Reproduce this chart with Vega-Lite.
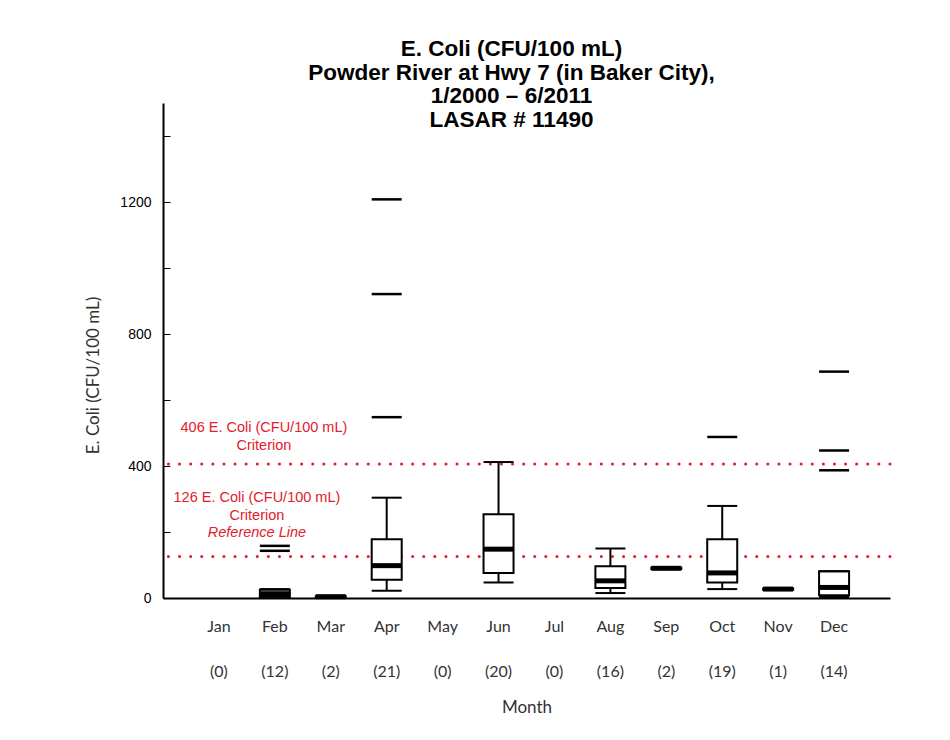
{
  "$schema": "https://vega.github.io/schema/vega-lite/v6.json",
  "autosize": "none",
  "width": 727,
  "height": 495,
  "padding": {"left": 163, "top": 103, "right": 60, "bottom": 142},
  "background": "white",
  "config": {"view": {"stroke": null}},
  "title": {
    "text": ["E. Coli (CFU/100 mL)", "Powder River at Hwy 7 (in Baker City),", "1/2000 – 6/2011", "LASAR # 11490"],
    "font": "Liberation Sans",
    "fontSize": 22.5,
    "fontWeight": "bold",
    "lineHeight": 23.5,
    "color": "black",
    "anchor": "middle",
    "frame": "group",
    "offset": -28,
    "dx": -15
  },
  "datasets": {
    "stats": [
      {"month": "Feb|(12)", "low": 0, "q1": 3, "median": 13, "q3": 25, "high": 27},
      {"month": "Mar|(2)", "low": 3, "q1": 3, "median": 4, "q3": 5, "high": 5},
      {"month": "Apr|(21)", "low": 22, "q1": 55, "median": 98, "q3": 178, "high": 304},
      {"month": "Jun|(20)", "low": 47, "q1": 76, "median": 148, "q3": 254, "high": 412},
      {"month": "Aug|(16)", "low": 15, "q1": 30, "median": 52, "q3": 96, "high": 150},
      {"month": "Sep|(2)", "low": 88, "q1": 88, "median": 90, "q3": 92, "high": 92},
      {"month": "Oct|(19)", "low": 27, "q1": 47, "median": 76, "q3": 178, "high": 279},
      {"month": "Nov|(1)", "low": 25, "q1": 25, "median": 27, "q3": 29, "high": 29},
      {"month": "Dec|(14)", "low": 3, "q1": 8, "median": 32, "q3": 81, "high": 81}
    ],
    "outliers": [
      {"month": "Feb|(12)", "value": 143},
      {"month": "Feb|(12)", "value": 158},
      {"month": "Apr|(21)", "value": 548},
      {"month": "Apr|(21)", "value": 921},
      {"month": "Apr|(21)", "value": 1208},
      {"month": "Oct|(19)", "value": 488},
      {"month": "Dec|(14)", "value": 387},
      {"month": "Dec|(14)", "value": 447},
      {"month": "Dec|(14)", "value": 686}
    ],
    "refs": [{"value": 406}, {"value": 126}],
    "notesUpper": [
      {"text": "406 E. Coli (CFU/100 mL)", "value": 515},
      {"text": "Criterion", "value": 462}
    ],
    "notesLower": [
      {"text": "126 E. Coli (CFU/100 mL)", "value": 303},
      {"text": "Criterion", "value": 248}
    ],
    "notesItalic": [
      {"text": "Reference Line", "value": 197}
    ]
  },
  "encoding": {
    "x": {
      "field": "month",
      "type": "nominal",
      "scale": {
        "domain": ["Jan|(0)", "Feb|(12)", "Mar|(2)", "Apr|(21)", "May|(0)", "Jun|(20)", "Jul|(0)", "Aug|(16)", "Sep|(2)", "Oct|(19)", "Nov|(1)", "Dec|(14)"],
        "paddingInner": 0,
        "paddingOuter": 0.5
      },
      "axis": {
        "title": "Month",
        "labelExpr": "split(datum.value, '|')",
        "labelAngle": 0,
        "labelFont": "Lato",
        "labelFontSize": 16,
        "labelColor": "#333333",
        "labelLineHeight": 45,
        "labelPadding": 20,
        "labelBaseline": "top",
        "ticks": false,
        "domainColor": "black",
        "domainWidth": 2,
        "titleFont": "Lato",
        "titleFontSize": 17,
        "titleFontWeight": "normal",
        "titleColor": "#333333",
        "titlePadding": 20
      }
    }
  },
  "layer": [
    {
      "data": {"name": "refs"},
      "mark": {"type": "rule", "color": "#e3202b", "strokeWidth": 3, "strokeDash": [0.1, 11], "strokeCap": "round"},
      "encoding": {
        "x": null,
        "y": {"field": "value", "type": "quantitative"}
      }
    },
    {
      "data": {"name": "stats"},
      "mark": {"type": "rule", "color": "black", "strokeWidth": 2},
      "encoding": {
        "y": {
          "field": "low",
          "type": "quantitative",
          "scale": {"domain": [0, 1500], "nice": false},
          "axis": {
            "title": "E. Coli (CFU/100 mL)",
            "values": [0, 200, 400, 600, 800, 1000, 1200, 1400],
            "labelExpr": "datum.value % 400 == 0 ? datum.label : ''",
            "format": "d",
            "grid": false,
            "tickSize": -7,
            "tickColor": "black",
            "tickWidth": 1,
            "labelPadding": 19,
            "labelFont": "Liberation Sans",
            "labelFontSize": 14,
            "labelColor": "black",
            "domainColor": "black",
            "domainWidth": 2,
            "titleFont": "Lato",
            "titleFontSize": 17,
            "titleFontWeight": "normal",
            "titleColor": "#333333",
            "titlePadding": 17,
            "titleY": 272
          }
        },
        "y2": {"field": "high"}
      }
    },
    {
      "data": {"name": "stats"},
      "mark": {"type": "bar", "fill": "white", "stroke": "black", "strokeWidth": 2, "width": 30},
      "encoding": {
        "y": {"field": "q1", "type": "quantitative"},
        "y2": {"field": "q3"}
      }
    },
    {
      "data": {"name": "stats"},
      "mark": {"type": "tick", "color": "black", "opacity": 1, "size": 30, "thickness": 2},
      "encoding": {"y": {"field": "low", "type": "quantitative"}}
    },
    {
      "data": {"name": "stats"},
      "mark": {"type": "tick", "color": "black", "opacity": 1, "size": 30, "thickness": 2},
      "encoding": {"y": {"field": "high", "type": "quantitative"}}
    },
    {
      "data": {"name": "stats"},
      "mark": {"type": "tick", "color": "black", "opacity": 1, "size": 30, "thickness": 5},
      "encoding": {"y": {"field": "median", "type": "quantitative"}}
    },
    {
      "data": {"name": "outliers"},
      "mark": {"type": "tick", "color": "black", "opacity": 1, "size": 30, "thickness": 2.5},
      "encoding": {"y": {"field": "value", "type": "quantitative"}}
    },
    {
      "data": {"name": "notesUpper"},
      "mark": {"type": "text", "color": "#e3202b", "font": "Liberation Sans", "fontSize": 14.5, "dx": 45, "align": "center", "baseline": "middle"},
      "encoding": {
        "x": {"datum": "Jan|(0)", "type": "nominal"},
        "y": {"field": "value", "type": "quantitative"},
        "text": {"field": "text"}
      }
    },
    {
      "data": {"name": "notesLower"},
      "mark": {"type": "text", "color": "#e3202b", "font": "Liberation Sans", "fontSize": 14.5, "dx": 38, "align": "center", "baseline": "middle"},
      "encoding": {
        "x": {"datum": "Jan|(0)", "type": "nominal"},
        "y": {"field": "value", "type": "quantitative"},
        "text": {"field": "text"}
      }
    },
    {
      "data": {"name": "notesItalic"},
      "mark": {"type": "text", "color": "#e3202b", "font": "Liberation Sans", "fontSize": 14.5, "fontStyle": "italic", "dx": 38, "align": "center", "baseline": "middle"},
      "encoding": {
        "x": {"datum": "Jan|(0)", "type": "nominal"},
        "y": {"field": "value", "type": "quantitative"},
        "text": {"field": "text"}
      }
    }
  ]
}
